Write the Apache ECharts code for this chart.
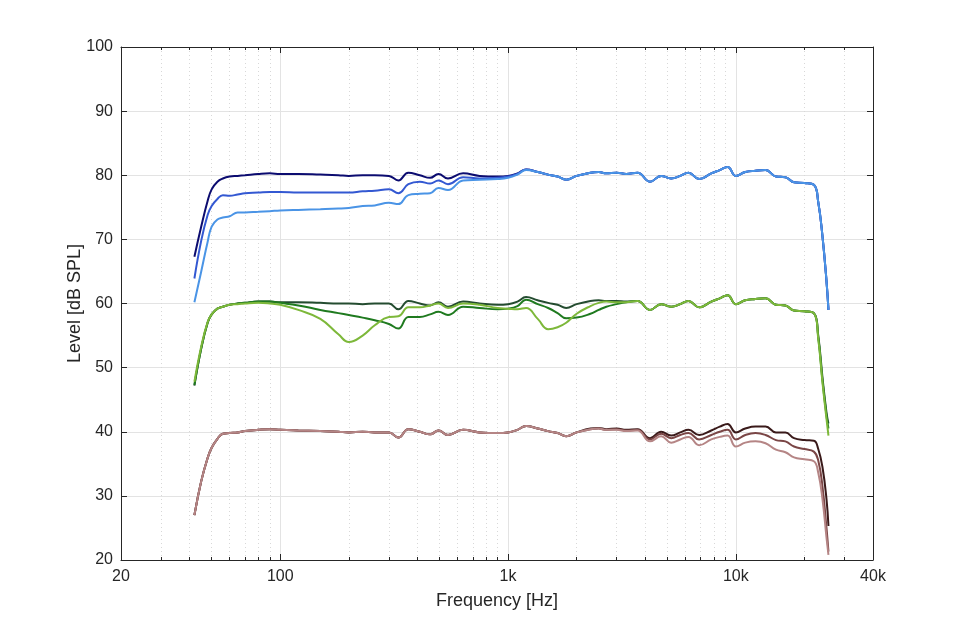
<!DOCTYPE html>
<html>
<head>
<meta charset="utf-8">
<script src="https://cdn.jsdelivr.net/npm/echarts@6.0.0/dist/echarts.min.js"></script>
<style>
  html, body { margin: 0; padding: 0; background: #fff; }
  #chart { width: 960px; height: 629px; }
</style>
</head>
<body>
<div id="chart"></div>
<script>
// frequency points (Hz) the curves were read at
const freqs = [42, 45, 48, 50, 53, 56, 60, 65, 70,
  80, 90, 100, 120, 150, 180, 200, 230, 260, 300,
  330, 365, 410, 455, 495, 545, 635, 750, 900, 1000,
  1100, 1200, 1350, 1500, 1650, 1800, 2000, 2300, 2500, 2700,
  3000, 3300, 3700, 4200, 4700, 5200, 5700, 6200, 6900, 7800,
  8500, 9200, 10000, 11000, 12200, 13500, 15000, 16500, 18000, 20000,
  22000, 23000, 24000, 25000, 25500];

// levels in dB SPL
const blue1 = [67.3, 72.0, 76.0, 77.8, 79.0, 79.5, 79.8, 79.9, 80.0,
  80.2, 80.3, 80.2, 80.2, 80.1, 80.0, 79.9, 80.0, 80.0, 79.9,
  79.2, 80.4, 80.0, 79.6, 80.2, 79.5, 80.3, 79.9, 79.8, 79.9,
  80.3, 80.9, 80.5, 80.1, 79.8, 79.3, 79.9, 80.4, 80.5, 80.3,
  80.4, 80.2, 80.4, 79.0, 79.9, 79.5, 79.9, 80.4, 79.4, 80.3,
  80.8, 81.3, 79.9, 80.5, 80.7, 80.8, 79.8, 79.7, 78.9, 78.8,
  78.5, 75.8, 70.5, 63.5, 59.0];
const blue2 = [63.9, 69.8, 73.8, 75.2, 76.3, 76.9, 76.8, 77.0, 77.2,
  77.3, 77.4, 77.4, 77.3, 77.3, 77.3, 77.3, 77.5, 77.6, 77.8,
  77.2, 78.6, 79.0, 78.7, 79.2, 78.6, 79.7, 79.5, 79.6, 79.8,
  80.2, 80.9, 80.5, 80.1, 79.8, 79.3, 79.9, 80.4, 80.5, 80.3,
  80.4, 80.2, 80.4, 79.0, 79.9, 79.5, 79.9, 80.4, 79.4, 80.3,
  80.8, 81.3, 79.9, 80.5, 80.7, 80.8, 79.8, 79.7, 78.9, 78.8,
  78.5, 75.8, 70.5, 63.5, 59.0];
const blue3 = [60.2, 65.0, 69.6, 72.0, 73.1, 73.4, 73.6, 74.2, 74.2,
  74.3, 74.4, 74.5, 74.6, 74.7, 74.8, 74.9, 75.2, 75.3, 75.7,
  75.5, 76.9, 77.1, 77.2, 78.0, 77.7, 79.2, 79.3, 79.4, 79.6,
  80.1, 80.8, 80.5, 80.1, 79.8, 79.3, 79.9, 80.4, 80.5, 80.3,
  80.4, 80.2, 80.4, 79.0, 79.9, 79.5, 79.9, 80.4, 79.4, 80.3,
  80.8, 81.3, 79.9, 80.5, 80.7, 80.8, 79.8, 79.7, 78.9, 78.8,
  78.5, 75.8, 70.5, 63.5, 59.0];

const green1 = [47.2, 53.0, 57.0, 58.3, 59.2, 59.5, 59.8, 60.0, 60.1,
  60.3, 60.3, 60.2, 60.2, 60.1, 60.0, 60.0, 59.9, 60.0, 60.0,
  59.1, 60.4, 60.0, 59.7, 60.2, 59.5, 60.3, 60.0, 59.8, 59.9,
  60.3, 61.0, 60.5, 60.1, 59.8, 59.3, 59.9, 60.4, 60.5, 60.4,
  60.4, 60.3, 60.4, 59.0, 59.9, 59.5, 59.9, 60.4, 59.4, 60.3,
  60.8, 61.3, 59.9, 60.5, 60.7, 60.8, 59.8, 59.7, 58.9, 58.8,
  58.5, 55.0, 48.5, 43.0, 41.3];
const green2 = [47.3, 53.0, 57.0, 58.3, 59.2, 59.5, 59.8, 60.0, 60.1,
  60.3, 60.3, 60.1, 59.7, 59.0, 58.5, 58.2, 57.8, 57.4, 56.8,
  56.1, 57.9, 57.9, 58.3, 58.7, 58.2, 59.5, 59.3, 59.1, 59.2,
  59.6, 60.6, 59.9, 59.3, 58.5, 57.7, 57.8, 58.4, 59.0, 59.5,
  59.9, 60.2, 60.4, 59.0, 59.9, 59.5, 59.9, 60.4, 59.4, 60.3,
  60.8, 61.3, 59.9, 60.5, 60.7, 60.8, 59.8, 59.7, 58.9, 58.8,
  58.5, 54.7, 48.0, 42.5, 40.5];
const green3 = [47.8, 53.3, 57.1, 58.3, 59.2, 59.5, 59.8, 59.9, 60.0,
  60.1, 60.0, 59.8, 59.0, 57.6, 55.2, 54.0, 55.0, 56.6, 57.9,
  58.0, 59.4, 59.4, 59.7, 60.0, 59.3, 60.0, 59.8, 59.3, 59.2,
  59.1, 59.3, 57.6, 56.0, 56.3, 57.0, 58.4, 59.6, 60.1, 60.3,
  60.2, 60.2, 60.4, 59.0, 59.9, 59.5, 59.9, 60.4, 59.4, 60.3,
  60.8, 61.3, 59.9, 60.5, 60.7, 60.8, 59.8, 59.7, 58.9, 58.8,
  58.5, 54.5, 47.7, 42.0, 39.4];

const brown1 = [27.0, 32.3, 35.9, 37.5, 38.9, 39.7, 39.8, 39.9, 40.1,
  40.3, 40.4, 40.3, 40.2, 40.1, 40.0, 39.9, 40.0, 39.9, 39.9,
  39.1, 40.4, 40.0, 39.6, 40.2, 39.5, 40.3, 39.9, 39.8, 39.9,
  40.3, 40.9, 40.5, 40.1, 39.8, 39.3, 39.9, 40.5, 40.6, 40.4,
  40.5, 40.3, 40.4, 39.0, 40.0, 39.4, 39.9, 40.3, 39.5, 40.2,
  40.8, 41.2, 39.9, 40.5, 40.8, 40.8, 39.9, 39.9, 39.0, 38.7,
  38.6, 37.3, 34.5, 29.5, 25.3];
const brown2 = [27.0, 32.3, 35.9, 37.5, 38.9, 39.7, 39.8, 39.9, 40.1,
  40.3, 40.4, 40.3, 40.2, 40.1, 40.0, 39.9, 40.0, 39.9, 39.9,
  39.1, 40.4, 40.0, 39.6, 40.2, 39.5, 40.3, 39.9, 39.8, 39.9,
  40.3, 40.9, 40.5, 40.1, 39.8, 39.3, 39.9, 40.4, 40.5, 40.3,
  40.4, 40.2, 40.3, 38.8, 39.7, 39.0, 39.5, 39.8, 38.8, 39.5,
  40.0, 40.3, 38.8, 39.5, 39.8, 39.5, 38.7, 38.5, 37.7, 37.3,
  36.9, 35.5, 31.5, 25.0, 21.3];
const brown3 = [27.0, 32.3, 35.9, 37.5, 38.9, 39.7, 39.8, 39.9, 40.1,
  40.3, 40.4, 40.3, 40.2, 40.1, 40.0, 39.9, 40.0, 39.9, 39.9,
  39.1, 40.4, 40.0, 39.6, 40.2, 39.5, 40.3, 39.9, 39.8, 39.9,
  40.3, 40.9, 40.5, 40.1, 39.8, 39.3, 39.9, 40.4, 40.5, 40.3,
  40.3, 40.1, 40.2, 38.5, 39.3, 38.3, 38.8, 39.2, 37.9, 38.8,
  39.2, 39.4, 37.7, 38.3, 38.5, 38.2, 37.2, 36.8, 36.0, 35.7,
  35.4, 33.6, 29.5, 23.5, 20.8];

// axis ticks
const xMajor = [20, 100, 1000, 10000, 40000];
const xMajorLabels = ['20', '100', '1k', '10k', '40k'];
const xMinor = [30, 40, 50, 60, 70, 80, 90, 200, 300, 400, 500, 600, 700, 800, 900,
  2000, 3000, 4000, 5000, 6000, 7000, 8000, 9000, 20000, 30000];

const lg = v => Math.log10(v);
const xMin = lg(20), xMax = lg(40000);
const axisColor = '#262626';
const font = '"Liberation Sans", Arial, sans-serif';

const chart = echarts.init(document.getElementById('chart'));

function xAxis(pos, values, major) {
  return {
    type: 'value', position: pos, min: xMin, max: xMax,
    axisLine: { show: major, onZero: false, lineStyle: { color: axisColor, width: 1 } },
    axisTick: { show: true, inside: true, length: major ? 6 : 3, customValues: values.map(lg),
      lineStyle: { color: axisColor } },
    axisLabel: {
      show: major && pos === 'bottom', customValues: values.map(lg),
      color: axisColor, fontSize: 16, fontFamily: font, margin: 9,
      formatter: v => {
        let best = 0;
        xMajor.forEach((f, i) => { if (Math.abs(lg(f) - v) < Math.abs(lg(xMajor[best]) - v)) best = i; });
        return xMajorLabels[best];
      }
    },
    splitLine: pos === 'bottom' ? {
      show: true,
      lineStyle: major ? { color: '#e3e3e3', width: 1 } : { color: '#d8d8d8', width: 1, type: [1, 3] }
    } : { show: false },
    name: major && pos === 'bottom' ? 'Frequency [Hz]' : '',
    nameLocation: 'middle', nameGap: 32,
    nameTextStyle: { color: axisColor, fontSize: 18, fontFamily: font }
  };
}

function yAxis(pos) {
  return {
    type: 'value', position: pos, min: 20, max: 100, interval: 10,
    axisLine: { show: true, lineStyle: { color: axisColor } },
    axisTick: { show: true, inside: true, length: 6, lineStyle: { color: axisColor } },
    axisLabel: { show: pos === 'left', color: axisColor, fontSize: 16, fontFamily: font, margin: 8 },
    splitLine: { show: pos === 'left', lineStyle: { color: '#e3e3e3', width: 1 } },
    name: pos === 'left' ? 'Level [dB SPL]' : '',
    nameLocation: 'middle', nameGap: 37, nameRotate: 90, nameMoveOverlap: false,
    nameTextStyle: { color: axisColor, fontSize: 18, fontFamily: font }
  };
}

function line(name, vals, color) {
  return {
    name, type: 'line', xAxisIndex: 0, yAxisIndex: 0,
    data: freqs.map((f, i) => [lg(f), vals[i]]),
    showSymbol: false, smooth: 0.45,
    lineStyle: { width: 2, color }, itemStyle: { color },
    animation: false
  };
}

chart.setOption({
  animation: false,
  grid: { left: 121, right: 87, top: 47, bottom: 69, containLabel: false },
  xAxis: [
    xAxis('bottom', xMajor, true),
    xAxis('bottom', xMinor, false),
    xAxis('top', xMajor, true),
    xAxis('top', xMinor, false)
  ],
  yAxis: [yAxis('left'), yAxis('right')],
  series: [
    line('blue1', blue1, '#0c0c70'),
    line('blue2', blue2, '#3358d2'),
    line('blue3', blue3, '#4a94e6'),
    line('green1', green1, '#244c30'),
    line('green2', green2, '#1f7a1f'),
    line('green3', green3, '#7db83a'),
    line('brown1', brown1, '#3a1a1a'),
    line('brown2', brown2, '#7a4646'),
    line('brown3', brown3, '#b58585')
  ]
});
</script>
</body>
</html>
